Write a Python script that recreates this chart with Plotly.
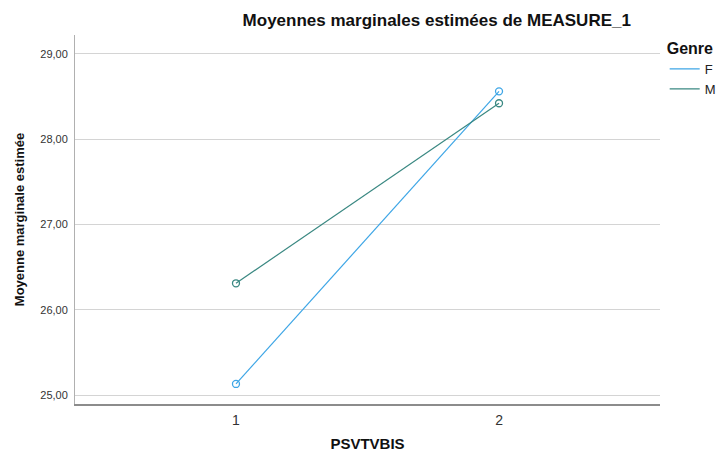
import plotly.graph_objects as go

categories = [1, 2]
f_values = [25.13, 28.56]
m_values = [26.31, 28.42]
y_ticks = [25, 26, 27, 28, 29]
y_tick_labels = ["25,00", "26,00", "27,00", "28,00", "29,00"]
series_names = ["F", "M"]
series_colors = ["#3ea6e6", "#3a8882"]

FONT = "Liberation Sans, Arial, sans-serif"

fig = go.Figure()
for name, vals, col in zip(series_names, [f_values, m_values], series_colors):
    fig.add_trace(go.Scatter(x=categories, y=vals, name=name, mode="lines+markers", showlegend=False,
                             line=dict(color=col, width=1.2),
                             marker=dict(symbol="circle-open", size=7, color=col, line=dict(width=1.3))))
for name, col in zip(series_names, series_colors):
    fig.add_trace(go.Scatter(x=[None], y=[None], name=name, mode="lines",
                             line=dict(color=col, width=1.2)))

fig.update_layout(
    width=716, height=452,
    margin=dict(l=75, r=56, t=35, b=48, autoexpand=False),
    paper_bgcolor="white", plot_bgcolor="white",
    font=dict(family=FONT, color="#222222"),
    title=dict(text="<b>Moyennes marginales estimées de MEASURE_1</b>",
               x=0.61, xref="container", xanchor="center", y=0.968, yref="container",
               automargin=False, font=dict(size=17, color="#111111")),
    legend=dict(title=dict(text="<b>Genre</b>", font=dict(size=16, color="#111111")),
                x=1.008, xanchor="left", y=1.005, yanchor="top",
                font=dict(size=13), tracegroupgap=0, itemwidth=30, bgcolor="rgba(0,0,0,0)"),
    showlegend=True,
)
fig.update_xaxes(range=[0.388, 2.612], tickvals=categories, ticktext=["1", "2"], automargin=False,
                 showgrid=False, zeroline=False, showline=True, linecolor="#8c8c8c", linewidth=1.5,
                 ticks="", tickfont=dict(size=14, color="#333333"), ticklabelstandoff=2,
                 title=dict(text="<b>PSVTVBIS</b>", font=dict(size=15, color="#111111"), standoff=24))
fig.update_yaxes(range=[24.895, 29.22], tickvals=y_ticks, ticktext=y_tick_labels, automargin=False,
                 showgrid=True, gridcolor="#d4d4d4", gridwidth=1, zeroline=False,
                 showline=True, linecolor="#b0b0b0", linewidth=1,
                 ticks="", tickfont=dict(size=11, color="#333333"), ticklabelstandoff=4,
                 title=dict(text="<b>Moyenne marginale estimée</b>", font=dict(size=13, color="#111111"), standoff=12))

fig.write_html("out.html", config={"displayModeBar": False},
               post_script="document.body.style.margin='0px';")
